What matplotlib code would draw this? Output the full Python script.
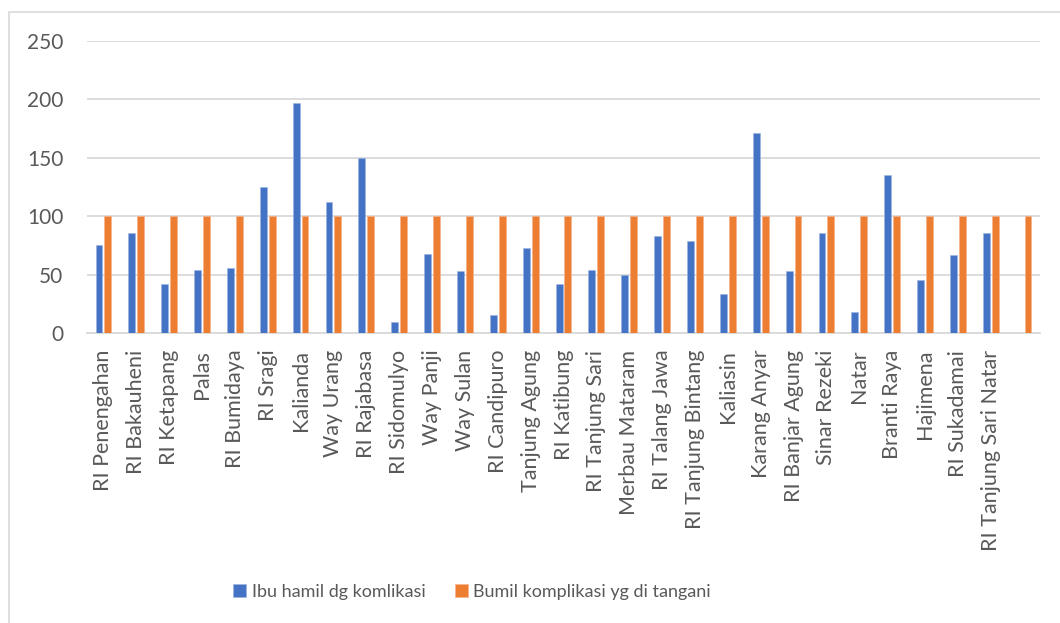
import matplotlib.pyplot as plt
import matplotlib.patches as mpatches
import numpy as np

plt.rcParams['font.family'] = ['Lato', 'DejaVu Sans']

categories = ['RI Penengahan', 'RI Bakauheni', 'RI Ketapang', 'Palas', 'RI Bumidaya',
              'RI Sragi', 'Kalianda', 'Way Urang', 'RI Rajabasa', 'RI Sidomulyo',
              'Way Panji', 'Way Sulan', 'RI Candipuro', 'Tanjung Agung', 'RI Katibung',
              'RI Tanjung Sari', 'Merbau Mataram', 'RI Talang Jawa', 'RI Tanjung Bintang',
              'Kaliasin', 'Karang Anyar', 'RI Banjar Agung', 'Sinar Rezeki', 'Natar',
              'Branti Raya', 'Hajimena', 'RI Sukadamai', 'RI Tanjung Sari Natar', '']
ibu_hamil = [75, 86, 42, 54, 56, 125, 197, 112, 150, 9,
             68, 53, 15, 73, 42, 54, 50, 83, 79, 33,
             171, 53, 86, 18, 135, 45, 67, 86, np.nan]
bumil_ditangani = [100] * 29
series_names = ['Ibu hamil dg komlikasi', 'Bumil komplikasi yg di tangani']

BLUE = '#4472C4'
ORANGE = '#ED7D31'
TEXT = '#595959'
GRID = '#D9D9D9'

fig = plt.figure(figsize=(10.6, 6.23), dpi=100)
fig.patch.set_facecolor('white')
ax = fig.add_axes([87 / 1060, 1 - 333 / 623, (1040 - 87) / 1060, (333 - 41) / 623])

# outer chart border
fig.add_artist(mpatches.Rectangle((9 / 1060, -0.01), 1.0, 1 - 12 / 623 + 0.01,
                                  transform=fig.transFigure, fill=False,
                                  edgecolor=GRID, lw=1.2))

x = np.arange(len(categories))
w = 0.21
ax.bar(x - 0.135, ibu_hamil, w, color=BLUE, edgecolor='#9DB4E0', lw=0.4,
       label=series_names[0], zorder=3)
ax.bar(x + 0.135, bumil_ditangani, w, color=ORANGE, edgecolor='#F5B08A', lw=0.4,
       label=series_names[1], zorder=3)

ax.set_xlim(-0.5, len(categories) - 0.5)
ax.set_ylim(0, 250)
ax.set_yticks(range(0, 251, 50))
ax.yaxis.grid(True, color=GRID, lw=1.3, zorder=0)
ax.set_axisbelow(True)
for s in ['top', 'right', 'left']:
    ax.spines[s].set_visible(False)
ax.spines['bottom'].set_color(GRID)
ax.spines['bottom'].set_linewidth(1.3)

ax.set_xticks(x)
ax.set_xticklabels(categories, rotation=90, fontsize=15.5, color=TEXT)
ax.tick_params(axis='x', length=0, pad=12)
ax.tick_params(axis='y', length=0, labelsize=15, labelcolor=TEXT, pad=17)

leg = fig.legend(loc='center', bbox_to_anchor=(472 / 1060, 1 - 592 / 623), ncol=2,
                 frameon=False, fontsize=13, labelcolor=TEXT,
                 handlelength=0.75, handleheight=0.75, handletextpad=0.3,
                 columnspacing=1.6)

fig.savefig('out.png', dpi=100, facecolor='white')
